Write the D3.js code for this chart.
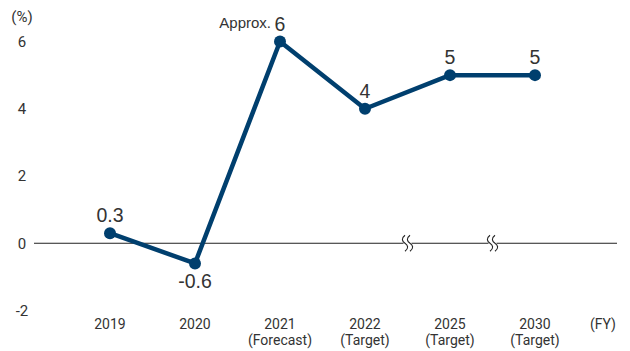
<!DOCTYPE html>
<html><head><meta charset="utf-8">
<script src="https://cdn.jsdelivr.net/npm/d3@7"></script>
<style>body{margin:0;background:#fff}svg{display:block}</style>
</head><body>
<svg id="c" width="630" height="351"></svg>
<script>
const categories = ["2019","2020","2021","2022","2025","2030"];
const subLabels = ["","","(Forecast)","(Target)","(Target)","(Target)"];
const values = [0.3,-0.6,6,4,5,5];
const valueLabels = ["0.3","-0.6","6","4","5","5"];
const yTicks = [-2,0,2,4,6];

const svg = d3.select("#c");
const x = d3.scalePoint().domain(categories).range([110,535]);
const y = d3.scaleLinear().domain([-2,6]).range([310.5,41.5]);
const navy = "#003f6e";
const narrow = "'Liberation Sans Narrow','Arial Narrow',Roboto,sans-serif";

// y tick labels
svg.append("g").selectAll("text").data(yTicks).join("text")
  .attr("x",22).attr("y",d=>y(d)).attr("dy","0.35em")
  .attr("text-anchor","middle").attr("font-family",narrow).attr("font-size",15)
  .attr("fill","#333").text(d=>d);
svg.append("text").attr("x",22).attr("y",17).attr("dy","0.35em")
  .attr("text-anchor","middle").attr("font-family",narrow).attr("font-size",15)
  .attr("fill","#333").text("(%)");

// zero line
svg.append("line").attr("x1",34).attr("x2",617).attr("y1",y(0)).attr("y2",y(0))
  .attr("stroke","#222").attr("stroke-width",1);

// break marks
const breaks = [(x("2022")+x("2025"))/2,(x("2025")+x("2030"))/2];
breaks.forEach(bx=>{
  const y0=y(0);
  svg.append("rect").attr("x",bx-4).attr("y",y0-2).attr("width",8).attr("height",4).attr("fill","#fff");
  [-2.5,2.5].forEach(o=>{
    const cx=bx+o;
    svg.append("path")
      .attr("d",`M${cx},${y0-8} C${cx-4},${y0-5} ${cx-3},${y0-2} ${cx},${y0} C${cx+3},${y0+2} ${cx+4},${y0+5} ${cx},${y0+8}`)
      .attr("fill","none").attr("stroke","#222").attr("stroke-width",1.1);
  });
});

// x labels
const xl = svg.append("g");
categories.forEach((c,i)=>{
  xl.append("text").attr("x",x(c)).attr("y",329).attr("text-anchor","middle")
    .attr("font-family",narrow).attr("font-size",14).attr("fill","#333").text(c);
  if(subLabels[i]) xl.append("text").attr("x",x(c)).attr("y",345).attr("text-anchor","middle")
    .attr("font-family",narrow).attr("font-size",14).attr("fill","#333").text(subLabels[i]);
});
svg.append("text").attr("x",603).attr("y",329).attr("text-anchor","middle")
  .attr("font-family",narrow).attr("font-size",14).attr("fill","#333").text("(FY)");

// line
const data = categories.map((c,i)=>({c,v:values[i],l:valueLabels[i]}));
svg.append("path").datum(data)
  .attr("d",d3.line().x(d=>x(d.c)).y(d=>y(d.v)))
  .attr("fill","none").attr("stroke",navy).attr("stroke-width",4.5).attr("stroke-linejoin","round");
svg.append("g").selectAll("circle").data(data).join("circle")
  .attr("cx",d=>x(d.c)).attr("cy",d=>y(d.v)).attr("r",6).attr("fill",navy);

// value labels
svg.append("g").selectAll("text").data(data).join("text")
  .attr("x",d=>x(d.c)).attr("y",d=>d.v<0? y(d.v)+25 : y(d.v)-11)
  .attr("text-anchor","middle").attr("font-family","'Liberation Sans',Arial,sans-serif")
  .attr("font-size",19.5).attr("fill","#333").text(d=>d.l);
svg.append("text").attr("x",x("2021")-9).attr("y",y(6)-14)
  .attr("text-anchor","end").attr("font-family","'Liberation Sans',Arial,sans-serif")
  .attr("font-size",15).attr("fill","#333").text("Approx.");
</script>
</body></html>
